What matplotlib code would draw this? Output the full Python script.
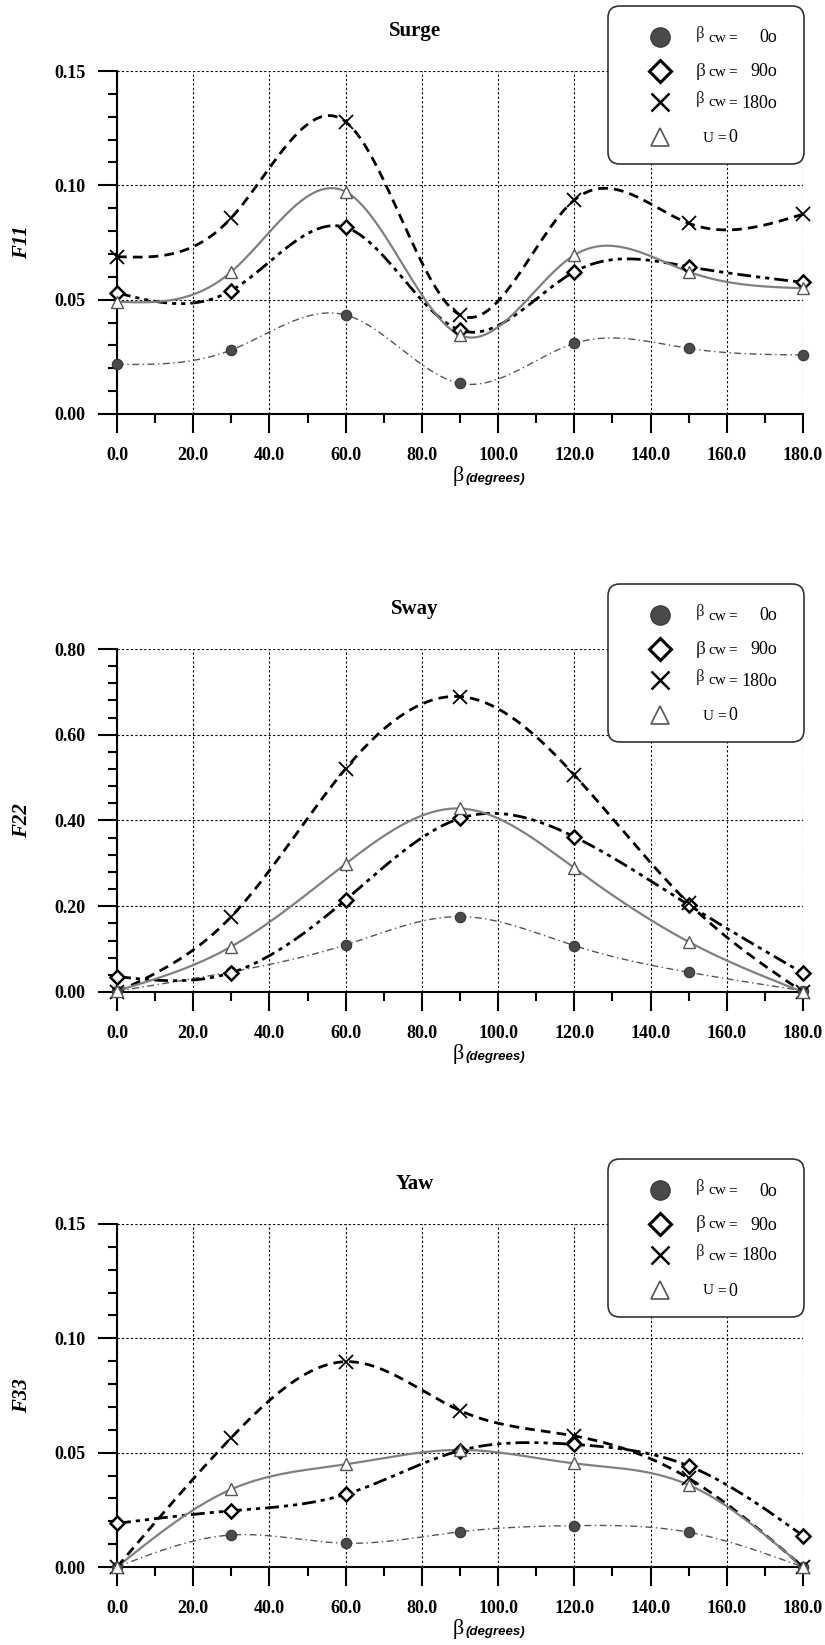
import numpy as np
import matplotlib.pyplot as plt
from matplotlib.patches import FancyBboxPatch
from matplotlib.ticker import MultipleLocator, FormatStrFormatter

# heading angle beta (degrees)
beta = [0, 30, 60, 90, 120, 150, 180]

# Surge F11
surge_0 = [0.0217, 0.0280, 0.0433, 0.0134, 0.0309, 0.0287, 0.0258]
surge_90 = [0.0530, 0.0540, 0.0816, 0.0367, 0.0622, 0.0644, 0.0576]
surge_180 = [0.0688, 0.0858, 0.1278, 0.0433, 0.0936, 0.0834, 0.0874]
surge_u0 = [0.0491, 0.0622, 0.0972, 0.0345, 0.0695, 0.0622, 0.0550]

# Sway F22
sway_0 = [0.002, 0.047, 0.110, 0.176, 0.108, 0.046, 0.003]
sway_90 = [0.036, 0.045, 0.215, 0.405, 0.362, 0.203, 0.044]
sway_180 = [0.000, 0.176, 0.521, 0.689, 0.506, 0.207, 0.000]
sway_u0 = [0.003, 0.106, 0.299, 0.428, 0.289, 0.117, 0.000]

# Yaw F33
yaw_0 = [0.000, 0.0140, 0.0104, 0.0154, 0.0181, 0.0152, 0.000]
yaw_90 = [0.0191, 0.0246, 0.0318, 0.0509, 0.0536, 0.0442, 0.0137]
yaw_180 = [0.000, 0.0566, 0.0898, 0.0684, 0.0573, 0.0388, 0.000]
yaw_u0 = [0.000, 0.0340, 0.0449, 0.0512, 0.0453, 0.0359, 0.000]

titles = ['Surge', 'Sway', 'Yaw']
ylabels = ['F11', 'F22', 'F33']
ymax = [0.15, 0.80, 0.15]
ymajor = [0.05, 0.20, 0.05]
yminor = [0.01, 0.04, 0.01]
data = [[surge_0, surge_90, surge_180, surge_u0],
        [sway_0, sway_90, sway_180, sway_u0],
        [yaw_0, yaw_90, yaw_180, yaw_u0]]
legend_vals = ['0o', '90o', '180o']


def spline(x, y, n=300):
    # natural cubic spline through the points
    x = np.asarray(x, float)
    y = np.asarray(y, float)
    h = np.diff(x)
    m = len(x)
    A = np.zeros((m, m))
    r = np.zeros(m)
    A[0, 0] = 1
    A[-1, -1] = 1
    for i in range(1, m - 1):
        A[i, i - 1] = h[i - 1]
        A[i, i] = 2 * (h[i - 1] + h[i])
        A[i, i + 1] = h[i]
        r[i] = 3 * ((y[i + 1] - y[i]) / h[i] - (y[i] - y[i - 1]) / h[i - 1])
    c = np.linalg.solve(A, r)
    b = (y[1:] - y[:-1]) / h - h * (2 * c[:-1] + c[1:]) / 3
    d = (c[1:] - c[:-1]) / (3 * h)
    xs = np.linspace(x[0], x[-1], n)
    idx = np.clip(np.searchsorted(x, xs, side='right') - 1, 0, m - 2)
    t = xs - x[idx]
    ys = y[idx] + b[idx] * t + c[idx] * t ** 2 + d[idx] * t ** 3
    return xs, ys


styles = [
    dict(color='#555555', lw=1.0, dashes=(5, 2.5, 1, 2.5)),
    dict(color='black', lw=2.0, dashes=(5, 1.8, 1.5, 1.8, 1.5, 1.8)),
    dict(color='black', lw=2.0, dashes=(3.5, 2.2)),
    dict(color='#808080', lw=1.6, dashes=None),
]
markers = [
    dict(marker='o', ms=7.5, mfc='#4a4a4a', mec='#333333', mew=0.8),
    dict(marker='D', ms=7, mfc='white', mec='black', mew=1.8),
    dict(marker='x', ms=10, mfc='none', mec='black', mew=1.3),
    dict(marker='^', ms=8, mfc='white', mec='#555555', mew=1.0),
]

W, H = 825, 1645
fig = plt.figure(figsize=(W / 100, H / 100), dpi=100)
axes_tops = [71, 649, 1224]
axh = 343
axl, axr = 117, 803

serif = 'Liberation Serif'

for k in range(3):
    top = axes_tops[k]
    ax = fig.add_axes([axl / W, 1 - (top + axh) / H, (axr - axl) / W, axh / H])
    for j in range(4):
        xs, ys = spline(beta, data[k][j])
        st = styles[j]
        line, = ax.plot(xs, ys, color=st['color'], lw=st['lw'], zorder=3, clip_on=False)
        if st['dashes'] is not None:
            line.set_dashes(st['dashes'])
        ax.plot(beta, data[k][j], ls='none', zorder=4, clip_on=False, **markers[j])

    ax.set_xlim(0, 180)
    ax.set_ylim(0, ymax[k])
    ax.xaxis.set_major_locator(MultipleLocator(20))
    ax.xaxis.set_minor_locator(MultipleLocator(10))
    ax.yaxis.set_major_locator(MultipleLocator(ymajor[k]))
    ax.yaxis.set_minor_locator(MultipleLocator(yminor[k]))
    ax.xaxis.set_major_formatter(FormatStrFormatter('%.1f'))
    ax.yaxis.set_major_formatter(FormatStrFormatter('%.2f'))
    ax.tick_params(which='major', direction='out', length=13.5, width=1.5, pad=9)
    ax.tick_params(which='minor', direction='out', length=6.5, width=1.5)
    ax.tick_params(axis='x', which='major', pad=10)
    for lab in ax.get_xticklabels() + ax.get_yticklabels():
        lab.set_fontfamily(serif)
        lab.set_fontweight('bold')
        lab.set_fontsize(13)
    ax.spines['top'].set_visible(False)
    ax.spines['right'].set_visible(False)
    ax.spines['left'].set_linewidth(1.5)
    ax.spines['bottom'].set_linewidth(1.5)
    ax.grid(True, which='major', color='black', lw=0.8, ls=(0, (2, 2)), zorder=1)
    ax.set_axisbelow(True)

    # title
    fig.text(415 / W, 1 - (top - 40) / H, titles[k], ha='center', va='center',
             family=serif, fontweight='bold', fontsize=15)
    # y label
    fig.text(22 / W, 1 - (top + axh / 2) / H, ylabels[k], ha='center', va='center',
             rotation=90, family=serif, fontweight='bold', style='italic', fontsize=15)
    # x label
    ybl = 1 - (top + axh + 62) / H
    fig.text(464 / W, ybl, '\u03b2', ha='right', va='center', family=serif, fontsize=16)
    fig.text(466 / W, ybl - 0.002, '(degrees)', ha='left', va='center', family='Liberation Sans',
             fontweight='bold', style='italic', fontsize=9.5)

    # legend box
    ltop = top - 66
    lax = fig.add_axes([607 / W, 1 - (ltop + 160) / H, 198 / W, 160 / H])
    lax.set_xlim(0, 198)
    lax.set_ylim(160, 0)
    lax.axis('off')
    box = FancyBboxPatch((1, 1), 196, 158, boxstyle='round,pad=0,rounding_size=12',
                         fc='white', ec='#333333', lw=1.2, zorder=1)
    lax.add_patch(box)
    rows = [32, 66, 97, 132]
    big = [dict(marker='o', ms=14, mfc='#4a4a4a', mec='#333333', mew=0.8),
           dict(marker='D', ms=11, mfc='white', mec='black', mew=2.2),
           dict(marker='x', ms=13, mfc='none', mec='black', mew=1.8),
           dict(marker='^', ms=13, mfc='white', mec='#555555', mew=1.2)]
    for j in range(4):
        lax.plot([53], [rows[j]], ls='none', zorder=3, **big[j])
    bsize = [12, 14, 12]
    boff = [-3, 0, -3]
    for j in range(3):
        lax.text(89, rows[j] + boff[j], '\u03b2', ha='left', va='center', family=serif,
                 fontsize=bsize[j], color='#222222', zorder=4)
        lax.text(101, rows[j] + 1, 'cw', ha='left', va='center', family=serif,
                 fontsize=11, zorder=4)
        lax.text(126, rows[j] + 1, '=', ha='center', va='center', family=serif,
                 fontsize=11, zorder=4)
        lax.text(170, rows[j] + 1, legend_vals[j], ha='right', va='center', family=serif,
                 fontsize=13, zorder=4)
    lax.text(96, rows[3] + 1, 'U', ha='left', va='center', family=serif, fontsize=11, zorder=4)
    lax.text(115, rows[3] + 1, '=', ha='center', va='center', family=serif, fontsize=11, zorder=4)
    lax.text(126, rows[3] + 1, '0', ha='center', va='center', family=serif, fontsize=13, zorder=4)

fig.savefig('out.png', dpi=100)
